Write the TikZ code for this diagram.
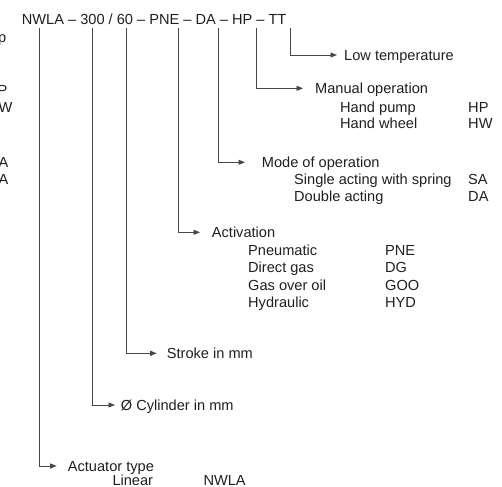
\documentclass[tikz,border=0pt]{standalone}
\usepackage{fontspec}
\setmainfont{Liberation Sans}
\usetikzlibrary{arrows.meta}
\begin{document}
\begin{tikzpicture}[x=1pt,y=-1pt,
  every node/.style={inner sep=0pt,font=\fontsize{14.6}{17}\selectfont,text=black!88},
  lbl/.style={anchor=west,text height=10.5pt,text depth=0pt},
  item/.style={anchor=base west},
  frag/.style={anchor=base east},
  conn/.style={draw=black!72,line width=0.9pt,-{Triangle[length=6.5pt,width=5pt]}}]
\useasboundingbox (0,0) rectangle (502,486);
% title
\node[item] (title) at (21.7,24.5) {NWLA -- 300 / 60 -- PNE -- DA -- HP -- TT};
\coordinate (tNWLA) at (39,28);
\coordinate (t300) at (92.7,28);
\coordinate (t60) at (126.7,28);
\coordinate (tPNE) at (178.3,28);
\coordinate (tDA) at (218.3,28);
\coordinate (tHP) at (256,28);
\coordinate (tTT) at (290,28);
% clipped fragments at the left edge
\node[frag] (f1) at (6.5,43) {p};
\node[frag] (f2) at (7.5,95.5) {HP};
\node[frag] (f3) at (12.5,112.5) {HW};
\node[frag] (f4) at (8.5,167.5) {SA};
\node[frag] (f5) at (8.5,185) {DA};
% labels
\node[lbl] (low) at (344,55) {Low temperature};
\node[lbl] (man) at (315,88.3) {Manual operation};
\node[item] (hp1) at (340,112.5) {Hand pump};
\node[item] (hp2) at (468,112.5) {HP};
\node[item] (hw1) at (340,129) {Hand wheel};
\node[item] (hw2) at (468,129) {HW};
\node[lbl] (mode) at (261.7,162.3) {Mode of operation};
\node[item] (sa1) at (294,185) {Single acting with spring};
\node[item] (sa2) at (468,185) {SA};
\node[item] (da1) at (294,201.5) {Double acting};
\node[item] (da2) at (468,201.5) {DA};
\node[lbl] (act) at (211.7,232.3) {Activation};
\node[item] (p1) at (248,255) {Pneumatic};
\node[item] (p2) at (385,255) {PNE};
\node[item] (d1) at (248,272.5) {Direct gas};
\node[item] (d2) at (385,272.5) {DG};
\node[item] (g1) at (248,290) {Gas over oil};
\node[item] (g2) at (385,290) {GOO};
\node[item] (h1) at (248,307) {Hydraulic};
\node[item] (h2) at (385,307) {HYD};
\node[lbl] (stroke) at (166.7,353.3) {Stroke in mm};
\node[lbl] (cyl) at (120.7,405) {Ø Cylinder in mm};
\node[lbl] (atype) at (67.7,466) {Actuator type};
\node[item] (lin1) at (112.3,485) {Linear};
\node[item] (lin2) at (203.3,485) {NWLA};
% connectors
\draw[conn] (tTT) |- ([xshift=-7pt]low.west);
\draw[conn] (tHP) |- ([xshift=-12pt]man.west);
\draw[conn] (tDA) |- ([xshift=-16.7pt]mode.west);
\draw[conn] (tPNE) |- ([xshift=-11.7pt]act.west);
\draw[conn] (t60) |- ([xshift=-10pt]stroke.west);
\draw[conn] (t300) |- ([xshift=-5.7pt]cyl.west);
\draw[conn] (tNWLA) |- ([xshift=-11pt]atype.west);
\end{tikzpicture}
\end{document}
